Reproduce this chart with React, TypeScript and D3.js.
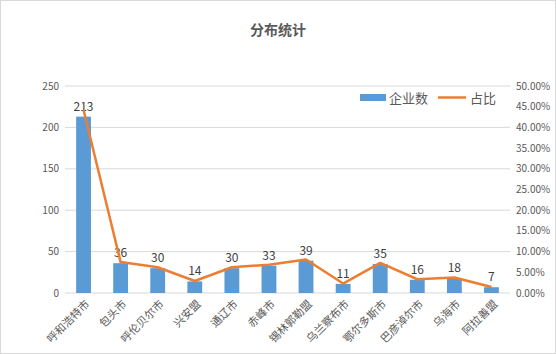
import React from 'react';
import * as d3 from 'd3';

const regions = ['呼和浩特市', '包头市', '呼伦贝尔市', '兴安盟', '通辽市', '赤峰市', '锡林郭勒盟', '乌兰察布市', '鄂尔多斯市', '巴彦淖尔市', '乌海市', '阿拉善盟'];
const counts = [213, 36, 30, 14, 30, 33, 39, 11, 35, 16, 18, 7];
const countTicks = [0, 50, 100, 150, 200, 250];
const shareTicks = [0, 0.05, 0.1, 0.15, 0.2, 0.25, 0.3, 0.35, 0.4, 0.45, 0.5];

const total = d3.sum(counts);
const shares = counts.map(c => c / total);

const W = 556;
const H = 354;
const left = 65;
const right = 510;
const top = 86;
const bottom = 293;
const font = '"Noto Sans CJK SC", "Microsoft YaHei", sans-serif';

export default function App() {
  const x = d3.scaleBand().domain(regions).range([left, right]).paddingInner(0.6).paddingOuter(0.3);
  const y = d3.scaleLinear().domain([0, 250]).range([bottom, top]);
  const y2 = d3.scaleLinear().domain([0, 0.5]).range([bottom, top]);
  const cx = (r: string) => (x(r) as number) + x.bandwidth() / 2;

  const line = d3.line<number>()
    .x((_, i) => cx(regions[i]))
    .y(d => y2(d));

  return (
    <svg width={W} height={H} style={{ position: 'absolute', left: 0, top: 0, fontFamily: font }}>
      <rect x={0.5} y={0.5} width={W - 1} height={H - 1} fill="#fff" stroke="#D9D9D9" />
      <text x={W / 2} y={35} textAnchor="middle" fontSize={14} fontWeight="bold" fill="#595959">分布统计</text>

      {countTicks.map(t => (
        <g key={t}>
          <line x1={left} x2={right} y1={y(t)} y2={y(t)} stroke="#D9D9D9" />
          <text x={left - 6} y={y(t)} dy="0.35em" textAnchor="end" fontSize={10} fill="#595959">{t}</text>
        </g>
      ))}
      {shareTicks.map(t => (
        <text key={t} x={right + 6} y={y2(t)} dy="0.35em" fontSize={10} fill="#595959">{(t * 100).toFixed(2)}%</text>
      ))}

      {regions.map((r, i) => (
        <g key={r}>
          <rect x={x(r)} y={y(counts[i])} width={x.bandwidth()} height={bottom - y(counts[i])} fill="#5B9BD5" />
          <text x={cx(r)} y={y(counts[i]) - 6} textAnchor="middle" fontSize={12} fill="#404040">{counts[i]}</text>
          <text transform={`translate(${cx(r) + 4},${bottom + 9}) rotate(-45)`} textAnchor="end" dy="0.35em" fontSize={11} fill="#595959">{r}</text>
        </g>
      ))}

      <path d={line(shares) as string} fill="none" stroke="#ED7D31" strokeWidth={2.5} strokeLinejoin="round" />

      <g fontSize={13} fill="#595959">
        <rect x={360} y={94} width={26} height={7} fill="#5B9BD5" />
        <text x={389} y={98} dy="0.35em">企业数</text>
        <line x1={438} x2={466} y1={97.5} y2={97.5} stroke="#ED7D31" strokeWidth={2.5} />
        <text x={470} y={98} dy="0.35em">占比</text>
      </g>
    </svg>
  );
}
